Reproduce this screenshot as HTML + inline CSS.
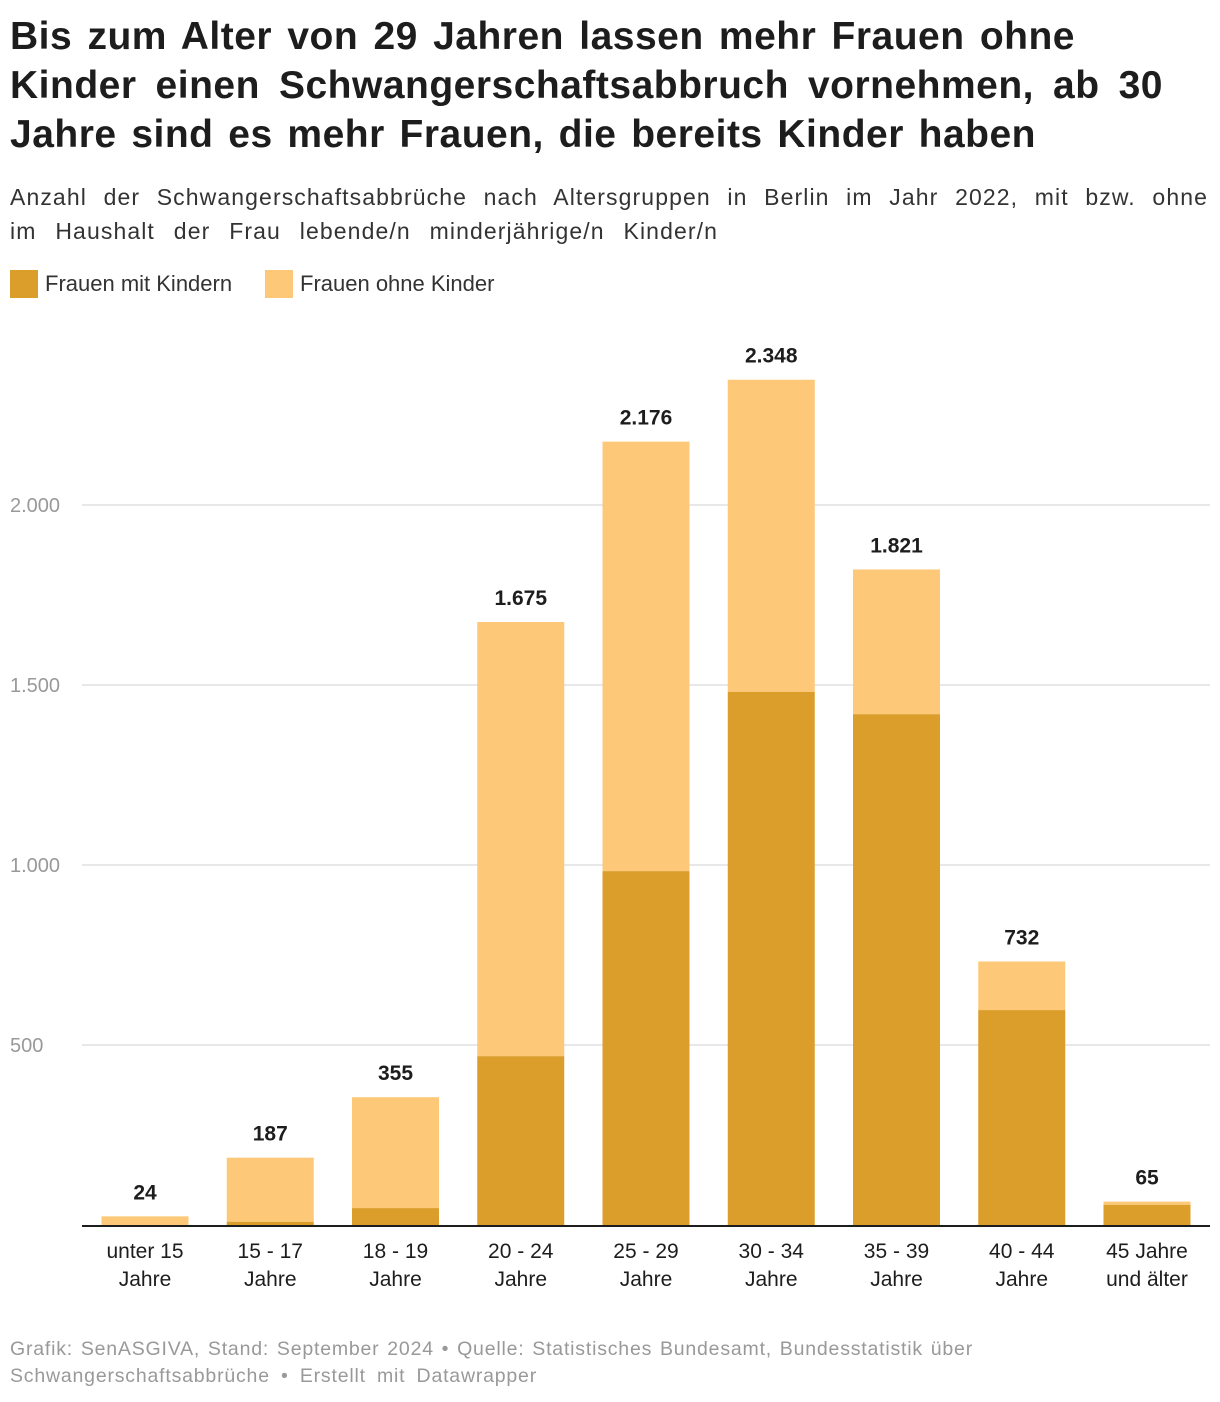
<!DOCTYPE html>
<html><head><meta charset="utf-8">
<style>
body{margin:0;background:#fff;font-family:"Liberation Sans",sans-serif;color:#1d1d1d;width:1220px;height:1402px;overflow:hidden;position:relative}
h1{position:absolute;left:10px;top:12px;margin:0;font-size:39px;line-height:49px;font-weight:bold;letter-spacing:0.5px}
.ln{display:block;text-align:justify;text-align-last:justify;white-space:nowrap}
.sub{position:absolute;left:10px;top:180px;font-size:23px;line-height:34px;color:#333;letter-spacing:1.1px}
.leg{position:absolute;top:270px;font-size:22px;color:#333;display:flex;align-items:center}
.sw{width:28px;height:28px;margin-right:7px;display:inline-block}
.foot{position:absolute;left:10px;top:1336px;font-size:19.5px;line-height:27px;color:#999;letter-spacing:0.8px}
</style></head><body>
<h1><span class="ln" style="width:1065px">Bis zum Alter von 29 Jahren lassen mehr Frauen ohne</span><span class="ln" style="width:1153px">Kinder einen Schwangerschaftsabbruch vornehmen, ab 30</span><span class="ln" style="width:1026px">Jahre sind es mehr Frauen, die bereits Kinder haben</span></h1>
<div class="sub"><span class="ln" style="width:1198px">Anzahl der Schwangerschaftsabbrüche nach Altersgruppen in Berlin im Jahr 2022, mit bzw. ohne</span><span class="ln" style="width:708px">im Haushalt der Frau lebende/n minderjährige/n Kinder/n</span></div>
<div class="leg" style="left:10px"><span class="sw" style="background:#dc9e2b"></span>Frauen mit Kindern</div>
<div class="leg" style="left:265px"><span class="sw" style="background:#fdc978"></span>Frauen ohne Kinder</div>
<svg id="chart" width="1220" height="1402" style="position:absolute;left:0;top:0"></svg>
<div class="foot"><span class="ln" style="width:963px">Grafik: SenASGIVA, Stand: September 2024 • Quelle: Statistisches Bundesamt, Bundesstatistik über</span><span class="ln" style="width:527px">Schwangerschaftsabbrüche • Erstellt mit Datawrapper</span></div>
<script>
const categories=[["unter 15","Jahre"],["15 - 17","Jahre"],["18 - 19","Jahre"],["20 - 24","Jahre"],["25 - 29","Jahre"],["30 - 34","Jahre"],["35 - 39","Jahre"],["40 - 44","Jahre"],["45 Jahre","und älter"]];
const mitKindern=[0,9,47,469,983,1481,1419,597,56];
const totals=[24,187,355,1675,2176,2348,1821,732,65];
const totalLabels=["24","187","355","1.675","2.176","2.348","1.821","732","65"];
const yTicks=[500,1000,1500,2000];
const yTickLabels=["500","1.000","1.500","2.000"];
const NS="http://www.w3.org/2000/svg";
const svg=document.getElementById('chart');
const y0=1225,scale=0.36;
const y=v=>y0-v*scale;
const x=i=>145+i*125.25;
const bw=87;
function el(t,a){const e=document.createElementNS(NS,t);for(const k in a)e.setAttribute(k,a[k]);svg.appendChild(e);return e;}
yTicks.forEach((t,i)=>{
 const l=el('line',{x1:82,x2:1210,y1:y(t),y2:y(t),stroke:'#e0e0e0','stroke-width':1.5});
 
 
 const tx=el('text',{x:10,y:y(t)+7,'font-size':20,fill:'#999','font-family':'Liberation Sans, sans-serif'});
 tx.textContent=yTickLabels[i];
 
 
});
categories.forEach((c,i)=>{
 const cx=x(i);
 const r1=el('rect',{x:cx-bw/2,y:y(totals[i]),width:bw,height:(totals[i]-mitKindern[i])*scale,fill:'#fdc978'});
 
 
 const r2=el('rect',{x:cx-bw/2,y:y(mitKindern[i]),width:bw,height:mitKindern[i]*scale,fill:'#dc9e2b'});
 
 
 const v=el('text',{x:cx,y:y(totals[i])-17,'text-anchor':'middle','font-size':21,'font-weight':'bold',fill:'#1d1d1d','font-family':'Liberation Sans, sans-serif'});
 v.textContent=totalLabels[i];
 
 
 c.forEach((s,j)=>{
  const t=el('text',{x:cx,y:1258+j*28,'text-anchor':'middle','font-size':21,fill:'#1d1d1d','font-family':'Liberation Sans, sans-serif'});
  t.textContent=s;
  
  
 });
});
const ax=el('line',{x1:82,x2:1210,y1:y0+1,y2:y0+1,stroke:'#1d1d1d','stroke-width':2});


</script>
</body></html>
